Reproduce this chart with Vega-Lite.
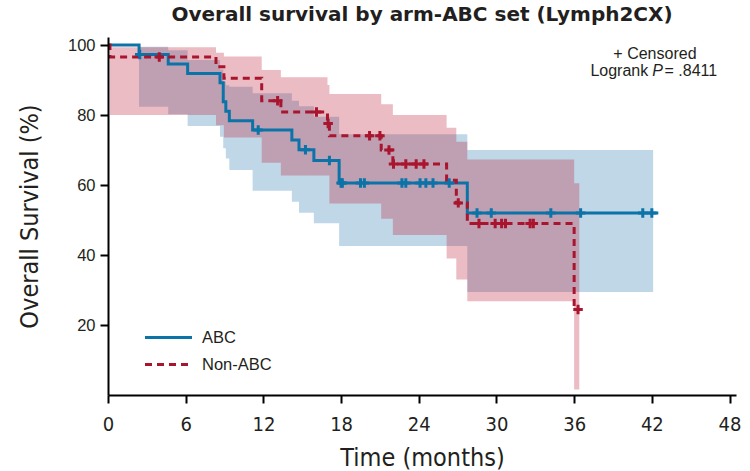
{
  "$schema": "https://vega.github.io/schema/vega-lite/v6.json",
  "width": 628,
  "height": 358,
  "autosize": {"type": "none"},
  "padding": {"left": 108, "top": 37, "right": 14, "bottom": 76},
  "background": "white",
  "title": {
    "text": "Overall survival by arm-ABC set (Lymph2CX)",
    "font": "DejaVu Sans",
    "fontSize": 20,
    "fontWeight": "bold",
    "color": "#231f20",
    "anchor": "middle",
    "frame": "group",
    "baseline": "alphabetic",
    "offset": 15,
    "dy": 19
  },
  "datasets": {
    "bands": [
      {"arm": "ABC", "t": 2.4, "lo": 82.4, "hi": 99.5},
      {"arm": "ABC", "t": 4.65, "lo": 80.2, "hi": 98.5},
      {"arm": "ABC", "t": 6.15, "lo": 76.9, "hi": 95.7},
      {"arm": "ABC", "t": 8.65, "lo": 73.8, "hi": 93.0},
      {"arm": "ABC", "t": 8.9, "lo": 70.5, "hi": 89.5},
      {"arm": "ABC", "t": 9.1, "lo": 67.6, "hi": 88.5},
      {"arm": "ABC", "t": 9.37, "lo": 64.3, "hi": 88.1},
      {"arm": "ABC", "t": 11.17, "lo": 58.4, "hi": 86.2},
      {"arm": "ABC", "t": 14.2, "lo": 55.2, "hi": 84.1},
      {"arm": "ABC", "t": 14.75, "lo": 52.1, "hi": 82.5},
      {"arm": "ABC", "t": 15.9, "lo": 49.1, "hi": 79.5},
      {"arm": "ABC", "t": 17.85, "lo": 42.6, "hi": 74.5},
      {"arm": "ABC", "t": 27.75, "lo": 29.4, "hi": 70.0},
      {"arm": "ABC", "t": 42.1, "lo": 29.4, "hi": 70.0},
      {"arm": "Non-ABC", "t": 0.15, "lo": 80.0, "hi": 99.4},
      {"arm": "Non-ABC", "t": 8.34, "lo": 77.1, "hi": 97.8},
      {"arm": "Non-ABC", "t": 8.95, "lo": 73.6, "hi": 96.7},
      {"arm": "Non-ABC", "t": 11.87, "lo": 66.4, "hi": 92.9},
      {"arm": "Non-ABC", "t": 13.35, "lo": 62.7, "hi": 90.8},
      {"arm": "Non-ABC", "t": 16.95, "lo": 62.7, "hi": 88.6},
      {"arm": "Non-ABC", "t": 17.1, "lo": 54.7, "hi": 86.0},
      {"arm": "Non-ABC", "t": 21.1, "lo": 50.4, "hi": 83.1},
      {"arm": "Non-ABC", "t": 22.0, "lo": 45.7, "hi": 80.0},
      {"arm": "Non-ABC", "t": 26.15, "lo": 39.0, "hi": 76.4},
      {"arm": "Non-ABC", "t": 26.9, "lo": 33.0, "hi": 72.4},
      {"arm": "Non-ABC", "t": 27.75, "lo": 26.8, "hi": 67.3},
      {"arm": "Non-ABC", "t": 36.0, "lo": 1.6, "hi": 60.5},
      {"arm": "Non-ABC", "t": 36.4, "lo": 1.6, "hi": 60.5}
    ],
    "surv": [
      {"arm": "ABC", "t": 0, "s": 100},
      {"arm": "ABC", "t": 2.4, "s": 97.3},
      {"arm": "ABC", "t": 4.65, "s": 94.6},
      {"arm": "ABC", "t": 6.15, "s": 91.9},
      {"arm": "ABC", "t": 8.65, "s": 89.2},
      {"arm": "ABC", "t": 8.9, "s": 83.8},
      {"arm": "ABC", "t": 9.1, "s": 81.1},
      {"arm": "ABC", "t": 9.37, "s": 78.4},
      {"arm": "ABC", "t": 11.17, "s": 75.7},
      {"arm": "ABC", "t": 14.2, "s": 72.9},
      {"arm": "ABC", "t": 14.75, "s": 70.1},
      {"arm": "ABC", "t": 15.9, "s": 67.0},
      {"arm": "ABC", "t": 17.85, "s": 60.6},
      {"arm": "ABC", "t": 27.75, "s": 52.0},
      {"arm": "ABC", "t": 42.5, "s": 52.0},
      {"arm": "Non-ABC", "t": 0, "s": 100},
      {"arm": "Non-ABC", "t": 0.15, "s": 96.6},
      {"arm": "Non-ABC", "t": 8.34, "s": 93.8},
      {"arm": "Non-ABC", "t": 8.95, "s": 90.5},
      {"arm": "Non-ABC", "t": 11.87, "s": 84.1},
      {"arm": "Non-ABC", "t": 13.35, "s": 80.9},
      {"arm": "Non-ABC", "t": 16.95, "s": 77.6},
      {"arm": "Non-ABC", "t": 17.1, "s": 74.1},
      {"arm": "Non-ABC", "t": 21.1, "s": 70.0},
      {"arm": "Non-ABC", "t": 22.0, "s": 66.0},
      {"arm": "Non-ABC", "t": 26.15, "s": 61.4},
      {"arm": "Non-ABC", "t": 26.9, "s": 54.9},
      {"arm": "Non-ABC", "t": 27.75, "s": 49.0},
      {"arm": "Non-ABC", "t": 36.0, "s": 24.4},
      {"arm": "Non-ABC", "t": 36.4, "s": 24.4}
    ],
    "cens": [
      {"arm": "ABC", "t": 2.45, "s": 97.3},
      {"arm": "ABC", "t": 11.6, "s": 75.7},
      {"arm": "ABC", "t": 15.25, "s": 70.1},
      {"arm": "ABC", "t": 17.1, "s": 67.0},
      {"arm": "ABC", "t": 18.0, "s": 60.6},
      {"arm": "ABC", "t": 18.1, "s": 60.6},
      {"arm": "ABC", "t": 19.5, "s": 60.6},
      {"arm": "ABC", "t": 19.8, "s": 60.6},
      {"arm": "ABC", "t": 22.7, "s": 60.6},
      {"arm": "ABC", "t": 23.0, "s": 60.6},
      {"arm": "ABC", "t": 24.1, "s": 60.6},
      {"arm": "ABC", "t": 24.55, "s": 60.6},
      {"arm": "ABC", "t": 25.1, "s": 60.6},
      {"arm": "ABC", "t": 26.35, "s": 60.6},
      {"arm": "ABC", "t": 28.5, "s": 52.0},
      {"arm": "ABC", "t": 29.6, "s": 52.0},
      {"arm": "ABC", "t": 34.2, "s": 52.0},
      {"arm": "ABC", "t": 36.5, "s": 52.0},
      {"arm": "ABC", "t": 41.3, "s": 52.0},
      {"arm": "ABC", "t": 42.0, "s": 52.0},
      {"arm": "Non-ABC", "t": 3.96, "s": 96.6},
      {"arm": "Non-ABC", "t": 13.1, "s": 84.1},
      {"arm": "Non-ABC", "t": 16.1, "s": 80.9},
      {"arm": "Non-ABC", "t": 17.0, "s": 77.6},
      {"arm": "Non-ABC", "t": 20.2, "s": 74.1},
      {"arm": "Non-ABC", "t": 21.0, "s": 74.1},
      {"arm": "Non-ABC", "t": 21.7, "s": 70.0},
      {"arm": "Non-ABC", "t": 22.05, "s": 66.0},
      {"arm": "Non-ABC", "t": 23.0, "s": 66.0},
      {"arm": "Non-ABC", "t": 23.8, "s": 66.0},
      {"arm": "Non-ABC", "t": 24.4, "s": 66.0},
      {"arm": "Non-ABC", "t": 27.05, "s": 54.9},
      {"arm": "Non-ABC", "t": 28.65, "s": 49.0},
      {"arm": "Non-ABC", "t": 29.9, "s": 49.0},
      {"arm": "Non-ABC", "t": 30.4, "s": 49.0},
      {"arm": "Non-ABC", "t": 30.7, "s": 49.0},
      {"arm": "Non-ABC", "t": 32.6, "s": 49.0},
      {"arm": "Non-ABC", "t": 32.85, "s": 49.0},
      {"arm": "Non-ABC", "t": 36.3, "s": 24.4}
    ],
    "notes": [
      {"t": 42.24, "s": 97.4, "label": "+ Censored"},
      {"t": 41.72, "s": 92.6, "label": "Logrank"},
      {"t": 42.45, "s": 92.6, "label": "P"},
      {"t": 42.98, "s": 92.6, "label": "= .8411"}
    ]
  },
  "config": {
    "view": {"stroke": null},
    "axis": {
      "domainColor": "#000000",
      "domainWidth": 2,
      "tickColor": "#000000",
      "tickWidth": 2,
      "tickSize": 8,
      "grid": false,
      "labelColor": "#231f20",
      "titleColor": "#231f20",
      "titleFontWeight": "normal"
    },
    "axisX": {
      "labelFont": "Liberation Sans Narrow, DejaVu Sans Condensed, Arial Narrow, sans-serif",
      "labelFontSize": 20,
      "labelPadding": 11,
      "labelFlush": false,
      "titleFont": "Liberation Sans Narrow, DejaVu Sans Condensed, Arial Narrow, sans-serif",
      "titleFontSize": 25,
      "titleX": 314,
      "titleY": 70,
      "titleBaseline": "alphabetic",
      "titleAlign": "center"
    },
    "axisY": {
      "labelFont": "Liberation Sans, Arial, sans-serif",
      "labelFontSize": 16.5,
      "labelPadding": 5,
      "titleFont": "Liberation Sans Narrow, DejaVu Sans Condensed, Arial Narrow, sans-serif",
      "titleFontSize": 25,
      "titleX": -71,
      "titleY": 179,
      "titleAngle": 270,
      "titleBaseline": "alphabetic",
      "titleAlign": "center"
    }
  },
  "encoding": {
    "x": {
      "field": "t",
      "type": "quantitative",
      "title": "Time (months)",
      "scale": {"domain": [0, 48.5], "nice": false, "zero": false},
      "axis": {"values": [0, 6, 12, 18, 24, 30, 36, 42, 48], "zindex": 2}
    }
  },
  "layer": [
    {
      "data": {"name": "bands"},
      "transform": [{"filter": "datum.arm === 'ABC'"}],
      "mark": {"type": "area", "interpolate": "step-after", "color": "#bfd7e7", "opacity": 1},
      "encoding": {
        "y": {"field": "lo", "type": "quantitative", "title": "Overall Survival (%)", "scale": {"domain": [0, 102.3], "nice": false, "zero": true}, "axis": {"values": [20, 40, 60, 80, 100], "zindex": 2}},
        "y2": {"field": "hi"}
      }
    },
    {
      "data": {"name": "bands"},
      "transform": [{"filter": "datum.arm === 'Non-ABC'"}],
      "mark": {"type": "area", "interpolate": "step-after", "color": "#bc2037", "opacity": 0.3},
      "encoding": {
        "y": {"field": "lo", "type": "quantitative", "title": "Overall Survival (%)", "axis": {"values": [20, 40, 60, 80, 100], "zindex": 2}},
        "y2": {"field": "hi"}
      }
    },
    {
      "data": {"name": "surv"},
      "mark": {"type": "line", "interpolate": "step-after", "strokeWidth": 3, "strokeCap": "butt"},
      "encoding": {
        "y": {"field": "s", "type": "quantitative", "title": "Overall Survival (%)", "axis": {"values": [20, 40, 60, 80, 100], "zindex": 2}},
        "color": {
          "field": "arm",
          "type": "nominal",
          "title": null,
          "scale": {"domain": ["ABC", "Non-ABC"], "range": ["#0b73a8", "#a9142e"]},
          "legend": {
            "orient": "none", "legendX": 49, "legendY": 289, "title": null,
            "symbolType": "M-2.35,0H2.35", "symbolSize": 400, "symbolStrokeWidth": 3,
            "labelFont": "Liberation Sans, Arial, sans-serif", "labelFontSize": 16.5,
            "labelColor": "#231f20", "labelOffset": 22, "rowPadding": 7, "padding": 0
          }
        },
        "strokeDash": {
          "field": "arm",
          "type": "nominal",
          "title": null,
          "scale": {"domain": ["ABC", "Non-ABC"], "range": [[1, 0], [7, 5]]},
          "legend": {
            "orient": "none", "legendX": 49, "legendY": 289, "title": null,
            "symbolType": "M-2.35,0H2.35", "symbolSize": 400, "symbolStrokeWidth": 3,
            "labelFont": "Liberation Sans, Arial, sans-serif", "labelFontSize": 16.5,
            "labelColor": "#231f20", "labelOffset": 22, "rowPadding": 7, "padding": 0
          }
        }
      }
    },
    {
      "data": {"name": "cens"},
      "mark": {"type": "point", "shape": "M-1,0H1M0,-1V1", "filled": false, "strokeWidth": 3, "size": 90, "opacity": 1},
      "encoding": {
        "y": {"field": "s", "type": "quantitative", "title": "Overall Survival (%)", "axis": {"values": [20, 40, 60, 80, 100], "zindex": 2}},
        "stroke": {
          "field": "arm",
          "type": "nominal",
          "scale": {"domain": ["ABC", "Non-ABC"], "range": ["#0b73a8", "#a9142e"]},
          "legend": null
        }
      }
    },
    {
      "data": {"name": "notes"},
      "transform": [{"filter": "datum.label === '+ Censored'"}],
      "mark": {"type": "text", "align": "center", "baseline": "middle", "font": "Liberation Sans, Arial, sans-serif", "fontSize": 16, "color": "#231f20"},
      "encoding": {
        "y": {"field": "s", "type": "quantitative", "title": "Overall Survival (%)", "axis": {"values": [20, 40, 60, 80, 100], "zindex": 2}},
        "text": {"field": "label"}
      }
    },
    {
      "data": {"name": "notes"},
      "transform": [{"filter": "datum.label === 'Logrank'"}],
      "mark": {"type": "text", "align": "right", "baseline": "middle", "font": "Liberation Sans, Arial, sans-serif", "fontSize": 16, "color": "#231f20"},
      "encoding": {
        "y": {"field": "s", "type": "quantitative", "title": "Overall Survival (%)", "axis": {"values": [20, 40, 60, 80, 100], "zindex": 2}},
        "text": {"field": "label"}
      }
    },
    {
      "data": {"name": "notes"},
      "transform": [{"filter": "datum.label === 'P'"}],
      "mark": {"type": "text", "align": "center", "baseline": "middle", "font": "Liberation Sans, Arial, sans-serif", "fontSize": 16, "fontStyle": "italic", "color": "#231f20"},
      "encoding": {
        "y": {"field": "s", "type": "quantitative", "title": "Overall Survival (%)", "axis": {"values": [20, 40, 60, 80, 100], "zindex": 2}},
        "text": {"field": "label"}
      }
    },
    {
      "data": {"name": "notes"},
      "transform": [{"filter": "datum.label === '= .8411'"}],
      "mark": {"type": "text", "align": "left", "baseline": "middle", "font": "Liberation Sans, Arial, sans-serif", "fontSize": 16, "color": "#231f20"},
      "encoding": {
        "y": {"field": "s", "type": "quantitative", "title": "Overall Survival (%)", "axis": {"values": [20, 40, 60, 80, 100], "zindex": 2}},
        "text": {"field": "label"}
      }
    }
  ]
}
